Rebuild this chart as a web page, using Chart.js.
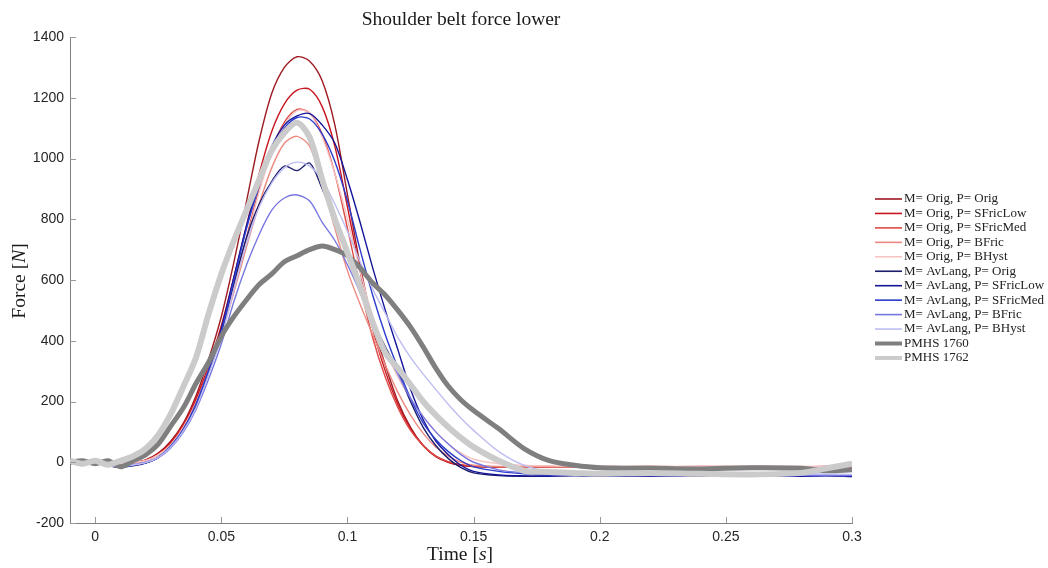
<!DOCTYPE html>
<html>
<head>
<meta charset="utf-8">
<script src="https://cdn.jsdelivr.net/npm/chart.js@4"></script>
<style>
  body { margin: 0; background: #fff; }
  canvas { display: block; }
</style>
</head>
<body>
<canvas id="chart" width="1048" height="568"></canvas>
<script>
// time axis [s]
const times = [-0.01, -0.005, 0, 0.005, 0.01, 0.015, 0.02, 0.025, 0.03, 0.035,
  0.04, 0.045, 0.05, 0.055, 0.06, 0.065, 0.07, 0.075, 0.08, 0.085,
  0.09, 0.095, 0.1, 0.105, 0.11, 0.115, 0.12, 0.125, 0.13, 0.135,
  0.14, 0.145, 0.15, 0.16, 0.17, 0.18, 0.19, 0.2, 0.22, 0.24,
  0.26, 0.28, 0.29, 0.3];

// force [N], model M= Orig
const origOrig = [null, null, 0, -3, -5, -2, 8, 30, 70, 130,
  220, 340, 480, 660, 860, 1060, 1215, 1300, 1335, 1320,
  1255, 1110, 880, 650, 455, 320, 200, 115, 55, 18,
  0, -10, -14, -16, -15, -14, -16, -15, -14, -16,
  -15, -15, -16, -15];
const origSFricLow = [null, null, 0, -2, -4, 0, 6, 28, 65, 125,
  210, 320, 450, 610, 780, 950, 1090, 1180, 1225, 1228,
  1170, 1040, 840, 630, 440, 300, 190, 110, 55, 20,
  0, -10, -13, -15, -16, -15, -14, -16, -15, -14,
  -16, -15, -14, -16];
const origSFricMed = [null, null, 0, -3, -5, -1, 5, 25, 60, 120,
  200, 310, 430, 580, 740, 900, 1030, 1120, 1162, 1150,
  1080, 950, 770, 580, 410, 280, 180, 105, 55, 20,
  2, -8, -12, -15, -14, -16, -15, -14, -16, -15,
  -14, -15, -16, -15];
const origBFric = [null, null, 0, -2, -4, 0, 5, 24, 58, 115,
  195, 300, 420, 560, 710, 850, 970, 1050, 1073, 1040,
  920, 770, 630, 520, 420, 320, 230, 155, 95, 50,
  20, 0, -10, -14, -15, -14, -16, -15, -14, -15,
  -16, -15, -14, -15];
const origBHyst = [null, null, 0, -3, -4, 0, 5, 24, 58, 115,
  195, 300, 420, 570, 730, 890, 1020, 1110, 1158, 1150,
  1070, 950, 800, 630, 480, 370, 280, 210, 150, 100,
  60, 30, 10, -5, -10, -12, -13, -12, -14, -13,
  -12, -13, -14, -12];

// force [N], model M= AvLang
const avOrig = [null, null, -2, -12, -16, -12, -3, 15, 50, 105,
  185, 295, 425, 590, 740, 850, 925, 975, 960, 985,
  900, 800, 680, 560, 465, 380, 300, 200, 115, 55,
  12, -18, -35, -44, -46, -45, -44, -46, -45, -44,
  -46, -45, -44, -46];
const avSFricLow = [null, null, -2, -10, -15, -10, -2, 16, 52, 108,
  190, 300, 440, 610, 780, 920, 1040, 1110, 1140, 1148,
  1110, 1050, 930, 790, 640, 500, 370, 240, 140, 70,
  25, -10, -30, -42, -45, -46, -44, -45, -46, -45,
  -44, -46, -45, -47];
const avSFricMed = [null, null, -2, -11, -15, -9, -1, 17, 54, 110,
  192, 305, 430, 600, 770, 910, 1030, 1100, 1135, 1130,
  1080, 990, 860, 700, 550, 420, 310, 210, 130, 75,
  35, 5, -15, -30, -38, -42, -43, -44, -43, -44,
  -45, -44, -43, -44];
const avBFric = [null, null, -2, -10, -14, -8, 0, 15, 48, 100,
  175, 275, 390, 530, 650, 750, 830, 870, 880, 860,
  790, 730, 650, 560, 460, 370, 290, 210, 150, 100,
  60, 25, 0, -25, -35, -40, -42, -43, -44, -43,
  -44, -43, -44, -43];
const avBHyst = [null, null, -2, -10, -14, -9, -1, 16, 50, 104,
  180, 290, 410, 570, 720, 840, 920, 970, 988, 975,
  930, 850, 760, 660, 570, 490, 410, 345, 290, 240,
  190, 145, 105, 35, -10, -30, -35, -38, -40, -39,
  -40, -38, -39, -40];

// force [N], test data
const pmhs1760 = [0, 5, -5, 5, -15, 5, 25, 60, 120, 180,
  260, 330, 415, 480, 535, 585, 620, 660, 680, 700,
  712, 700, 680, 640, 590, 550, 500, 445, 380, 310,
  250, 205, 170, 110, 45, 5, -10, -18, -20, -22,
  -18, -20, -28, -25];
const pmhs1762 = [5, -5, 5, -8, 5, 20, 45, 90, 160, 250,
  346, 490, 620, 730, 830, 930, 1027, 1085, 1118, 1070,
  930, 800, 690, 580, 460, 360, 310, 255, 200, 155,
  115, 80, 50, 5, -28, -32, -35, -38, -35, -38,
  -40, -35, -20, -5];

const xTicks = [0, 0.05, 0.1, 0.15, 0.2, 0.25, 0.3];
const xTickLabels = ["0", "0.05", "0.1", "0.15", "0.2", "0.25", "0.3"];
const yTicks = [-200, 0, 200, 400, 600, 800, 1000, 1200, 1400];

const series = [
  { label: "M= Orig, P= Orig", data: origOrig, color: "#9e1b22", width: 1.4 },
  { label: "M= Orig, P= SFricLow", data: origSFricLow, color: "#c8141e", width: 1.4 },
  { label: "M= Orig, P= SFricMed", data: origSFricMed, color: "#de4a45", width: 1.4 },
  { label: "M= Orig, P= BFric", data: origBFric, color: "#ec8a80", width: 1.4 },
  { label: "M= Orig, P= BHyst", data: origBHyst, color: "#f6c4c2", width: 1.4 },
  { label: "M= AvLang, P= Orig", data: avOrig, color: "#1c1c6c", width: 1.4 },
  { label: "M= AvLang, P= SFricLow", data: avSFricLow, color: "#15159a", width: 1.4 },
  { label: "M= AvLang, P= SFricMed", data: avSFricMed, color: "#2c3ccc", width: 1.4 },
  { label: "M= AvLang, P= BFric", data: avBFric, color: "#7777e0", width: 1.4 },
  { label: "M= AvLang, P= BHyst", data: avBHyst, color: "#bdbdf2", width: 1.4 },
  { label: "PMHS 1760", data: pmhs1760, color: "#7f7f7f", width: 5 },
  { label: "PMHS 1762", data: pmhs1762, color: "#cbcbcb", width: 6 }
];

const serif = "'Liberation Serif', 'DejaVu Serif', serif";
const sans = "'Liberation Sans', Arial, sans-serif";

function drawMixed(ctx, parts, cx, cy, size) {
  let total = 0;
  parts.forEach(p => {
    ctx.font = (p[1] ? "italic " : "") + size + "px " + serif;
    total += ctx.measureText(p[0]).width;
  });
  let x = cx - total / 2;
  parts.forEach(p => {
    ctx.font = (p[1] ? "italic " : "") + size + "px " + serif;
    ctx.fillText(p[0], x, cy);
    x += ctx.measureText(p[0]).width;
  });
}

const decorations = {
  id: "decorations",
  afterDraw(chart) {
    const ctx = chart.ctx;
    const area = chart.chartArea;
    const xs = chart.scales.x, ys = chart.scales.y;
    ctx.save();

    // inward ticks
    ctx.strokeStyle = "#9a9a9a";
    ctx.lineWidth = 1;
    ctx.beginPath();
    xTicks.forEach(v => {
      const px = Math.round(xs.getPixelForValue(v)) + 0.5;
      ctx.moveTo(px, area.bottom);
      ctx.lineTo(px, area.bottom - 6);
    });
    yTicks.forEach(v => {
      const py = Math.round(ys.getPixelForValue(v)) + 0.5;
      ctx.moveTo(area.left, py);
      ctx.lineTo(area.left + 6, py);
    });
    ctx.stroke();

    // title and axis titles
    ctx.fillStyle = "#1a1a1a";
    ctx.textBaseline = "middle";
    ctx.textAlign = "left";
    drawMixed(ctx, [["Shoulder belt force lower", false]], 461, 20, 19.5);
    drawMixed(ctx, [["Time [", false], ["s", true], ["]", false]], 460, 555, 19.5);
    ctx.save();
    ctx.translate(20, 281);
    ctx.rotate(-Math.PI / 2);
    drawMixed(ctx, [["Force [", false], ["N", true], ["]", false]], 0, 0, 19.5);
    ctx.restore();

    // legend
    const x0 = 875, x1 = 902, y0 = 199, step = 14.45;
    series.forEach((s, i) => {
      const y = y0 + i * step;
      ctx.strokeStyle = s.color;
      ctx.lineWidth = s.width > 2 ? 4 : 1.6;
      ctx.beginPath();
      ctx.moveTo(x0, y);
      ctx.lineTo(x1, y);
      ctx.stroke();
      ctx.fillStyle = "#222";
      ctx.font = "13px " + serif;
      ctx.fillText(s.label, x1 + 2, y);
    });
    ctx.restore();
  }
};

new Chart(document.getElementById("chart"), {
  type: "line",
  data: {
    datasets: series.map((s, i) => ({
      label: s.label,
      data: times.map((t, k) => ({ x: t, y: s.data[k] })),
      borderColor: s.color,
      borderWidth: s.width,
      pointRadius: 0,
      fill: false,
      tension: 0.3,
      spanGaps: false,
      order: series.length - i
    }))
  },
  options: {
    responsive: false,
    animation: false,
    layout: { padding: { left: 0, top: 37, right: 196, bottom: 0 } },
    plugins: {
      legend: { display: false },
      title: { display: false },
      tooltip: { enabled: false }
    },
    scales: {
      x: {
        type: "linear",
        min: -0.01,
        max: 0.3,
        afterBuildTicks: scale => { scale.ticks = xTicks.map(v => ({ value: v })); },
        afterFit: scale => { scale.height = 45; },
        grid: { display: false },
        border: { display: true, color: "#808080", width: 1 },
        ticks: {
          padding: -2,
          color: "#262626",
          font: { family: sans, size: 14 },
          maxRotation: 0,
          callback: v => xTickLabels[xTicks.indexOf(v)] ?? ""
        }
      },
      y: {
        min: -200,
        max: 1400,
        afterBuildTicks: scale => { scale.ticks = yTicks.map(v => ({ value: v })); },
        afterFit: scale => { scale.width = 70; },
        grid: { display: false },
        border: { display: true, color: "#808080", width: 1 },
        ticks: {
          padding: -2,
          color: "#262626",
          font: { family: sans, size: 14 },
          callback: v => String(v)
        }
      }
    }
  },
  plugins: [decorations]
});
</script>
</body>
</html>
